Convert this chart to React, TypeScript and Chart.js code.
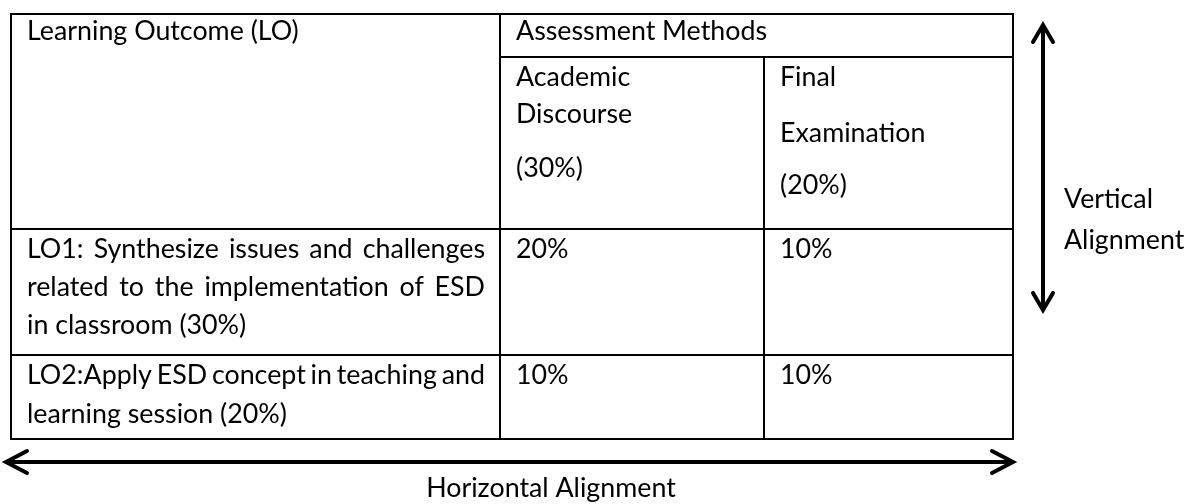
import React, { useEffect, useRef } from "react";
import { Chart, registerables } from "chart.js";

Chart.register(...registerables);

// ---- table content ----
const headerTitles = ["Learning Outcome (LO)", "Assessment Methods"];
const methodNames = [
  ["Academic", "Discourse", "(30%)"],
  ["Final", "Examination", "(20%)"],
];
const outcomes = [
  ["LO1: Synthesize issues and challenges", "related to the implementation of ESD", "in classroom (30%)"],
  ["LO2:Apply ESD concept in teaching and", "learning session (20%)"],
];
const academicDiscourse = ["20%", "10%"];
const finalExamination = ["10%", "10%"];
const verticalLabel = ["Vertical", "Alignment"];
const horizontalLabel = "Horizontal Alignment";

// ---- grid (in canvas units of the linear scales) ----
const columnEdges = [11, 500, 764, 1013];
const rowEdges = [14, 57, 229, 355, 439];
const headerBaseline = 40;
const methodLineY = [
  [86, 123, 177],
  [86, 142, 194],
];
const outcomeLineY = [
  [258, 296, 334],
  [384, 423],
];
const vArrow = { x: 1043, top: 25, bottom: 310 };
const hArrow = { y: 462, left: 6, right: 1013 };
const verticalLabelX = 1064;
const verticalLabelY = [208, 249];
const horizontalLabelX = 551;
const horizontalLabelY = 497;

const FONT_FAMILY = "Lato, 'Liberation Sans', sans-serif";

function seg(x1: number, y1: number, x2: number, y2: number, width: number) {
  return {
    type: "line" as const,
    data: [
      { x: x1, y: y1 },
      { x: x2, y: y2 },
    ],
    borderColor: "#000",
    borderWidth: width,
    pointRadius: 0,
    showLine: true,
    fill: false,
    borderCapStyle: "square" as const,
  };
}

function chevron(pts: { x: number; y: number }[], width: number) {
  return {
    type: "line" as const,
    data: pts,
    borderColor: "#000",
    borderWidth: width,
    pointRadius: 0,
    showLine: true,
    fill: false,
    borderCapStyle: "round" as const,
    borderJoinStyle: "miter" as const,
  };
}

function buildDatasets() {
  const [x0, x1, x2, x3] = columnEdges;
  const [y0, y1, y2, y3, y4] = rowEdges;
  const lw = 2;
  const ds: any[] = [
    seg(x0, y0, x3, y0, lw),
    seg(x1, y1, x3, y1, lw),
    seg(x0, y2, x3, y2, lw),
    seg(x0, y3, x3, y3, lw),
    seg(x0, y4, x3, y4, lw),
    seg(x0, y0, x0, y4, lw),
    seg(x1, y0, x1, y4, lw),
    seg(x2, y1, x2, y4, lw),
    seg(x3, y0, x3, y4, lw),
  ];
  // vertical arrow
  ds.push(seg(vArrow.x, vArrow.top + 2, vArrow.x, vArrow.bottom - 2, 4));
  ds.push(
    chevron(
      [
        { x: vArrow.x - 10, y: vArrow.top + 17 },
        { x: vArrow.x, y: vArrow.top },
        { x: vArrow.x + 10, y: vArrow.top + 17 },
      ],
      4
    )
  );
  ds.push(
    chevron(
      [
        { x: vArrow.x - 10, y: vArrow.bottom - 17 },
        { x: vArrow.x, y: vArrow.bottom },
        { x: vArrow.x + 10, y: vArrow.bottom - 17 },
      ],
      4
    )
  );
  // horizontal arrow
  ds.push(seg(hArrow.left + 2, hArrow.y, hArrow.right - 2, hArrow.y, 4));
  ds.push(
    chevron(
      [
        { x: hArrow.left + 21, y: hArrow.y - 11 },
        { x: hArrow.left, y: hArrow.y },
        { x: hArrow.left + 21, y: hArrow.y + 11 },
      ],
      4
    )
  );
  ds.push(
    chevron(
      [
        { x: hArrow.right - 21, y: hArrow.y - 11 },
        { x: hArrow.right, y: hArrow.y },
        { x: hArrow.right - 21, y: hArrow.y + 11 },
      ],
      4
    )
  );
  return ds;
}

const tableTextPlugin = {
  id: "tableText",
  afterDatasetsDraw(chart: any) {
    const ctx: CanvasRenderingContext2D = chart.ctx;
    const xs = chart.scales.x;
    const ys = chart.scales.y;
    const px = (v: number) => xs.getPixelForValue(v);
    const py = (v: number) => ys.getPixelForValue(v);

    ctx.save();
    // fit font size so the header title matches the reference width
    ctx.font = `100px ${FONT_FAMILY}`;
    const w100 = ctx.measureText(headerTitles[0]).width;
    const size = Math.round((272 / w100) * 100 * 10) / 10;
    ctx.font = `${size}px ${FONT_FAMILY}`;
    ctx.fillStyle = "#000";
    ctx.textBaseline = "alphabetic";
    ctx.textAlign = "left";

    const pad = 16;
    const colLeft = columnEdges.slice(0, 3).map((c) => c + pad);
    const col0Right = columnEdges[1] - 15;

    ctx.fillText(headerTitles[0], px(colLeft[0]), py(headerBaseline));
    ctx.fillText(headerTitles[1], px(colLeft[1]), py(headerBaseline));

    methodNames.forEach((lines, ci) => {
      lines.forEach((t, li) => ctx.fillText(t, px(colLeft[ci + 1]), py(methodLineY[ci][li])));
    });

    outcomes.forEach((lines, ri) => {
      lines.forEach((t, li) => {
        const y = py(outcomeLineY[ri][li]);
        const isLast = li === lines.length - 1;
        if (isLast) {
          ctx.fillText(t, px(colLeft[0]), y);
        } else {
          const words = t.split(" ");
          const widths = words.map((w) => ctx.measureText(w).width);
          const total = widths.reduce((a, b) => a + b, 0);
          const span = px(col0Right) - px(colLeft[0]);
          const gap = (span - total) / (words.length - 1);
          let x = px(colLeft[0]);
          words.forEach((w, wi) => {
            ctx.fillText(w, x, y);
            x += widths[wi] + gap;
          });
        }
      });
      ctx.fillText(academicDiscourse[ri], px(colLeft[1]), py(outcomeLineY[ri][0]));
      ctx.fillText(finalExamination[ri], px(colLeft[2]), py(outcomeLineY[ri][0]));
    });

    verticalLabel.forEach((t, i) => ctx.fillText(t, px(verticalLabelX), py(verticalLabelY[i])));
    ctx.textAlign = "center";
    ctx.fillText(horizontalLabel, px(horizontalLabelX), py(horizontalLabelY));
    ctx.restore();
  },
};

export default function App() {
  const canvasRef = useRef<HTMLCanvasElement | null>(null);

  useEffect(() => {
    document.body.style.margin = "0";
    document.body.style.background = "#fff";
    const canvas = canvasRef.current;
    if (!canvas) return;
    const chart = new Chart(canvas, {
      type: "scatter",
      data: { datasets: buildDatasets() },
      options: {
        animation: false,
        responsive: false,
        maintainAspectRatio: false,
        devicePixelRatio: 1,
        layout: { padding: 0 },
        plugins: {
          legend: { display: false },
          tooltip: { enabled: false },
          title: { display: false },
        },
        events: [],
        scales: {
          x: { type: "linear", min: 0, max: 1192, display: false },
          y: { type: "linear", min: 0, max: 504, reverse: true, display: false },
        },
      },
      plugins: [tableTextPlugin],
    });
    return () => chart.destroy();
  }, []);

  return (
    <div style={{ width: 1192, height: 504, background: "#fff" }}>
      <canvas ref={canvasRef} width={1192} height={504} style={{ display: "block" }} />
    </div>
  );
}
